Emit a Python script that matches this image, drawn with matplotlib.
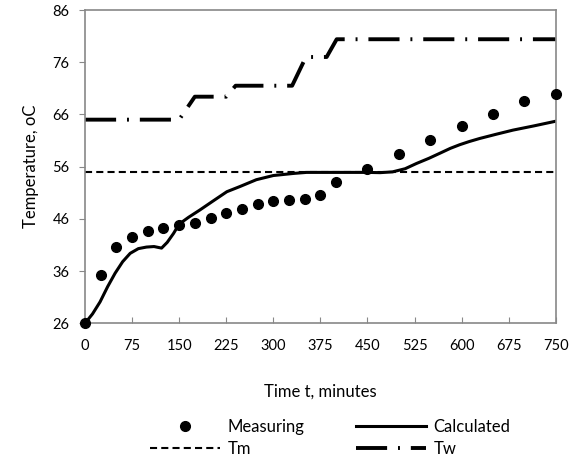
import matplotlib.pyplot as plt
from matplotlib.lines import Line2D

plt.rcParams['font.family'] = ['Lato', 'DejaVu Sans']

# measured temperatures
t_meas = [0, 25, 50, 75, 100, 125, 150, 175, 200, 225, 250, 275, 300, 325, 350, 375, 400,
          450, 500, 550, 600, 650, 700, 750]
T_meas = [26, 35.2, 40.7, 42.6, 43.7, 44.2, 44.8, 45.3, 46.1, 47.1, 47.9, 48.85, 49.4, 49.7, 49.8,
          50.6, 53.0, 55.6, 58.4, 61.1, 63.7, 66.1, 68.6, 69.9]

# calculated curve
t_calc = [0, 12, 24, 36, 48, 60, 72, 85, 98, 110, 122, 131, 141, 150, 165, 183, 205, 226, 247,
          273, 300, 332, 353, 400, 450, 470, 490, 510, 528, 548, 566, 582, 597, 612, 629, 655,
          682, 715, 750]
T_calc = [26, 27.8, 30.1, 33.0, 35.6, 37.8, 39.4, 40.3, 40.6, 40.7, 40.4, 41.5, 43.2, 45.0, 46.3,
          47.7, 49.5, 51.2, 52.2, 53.5, 54.3, 54.7, 54.9, 54.9, 54.9, 54.85, 55.0, 55.6, 56.6,
          57.6, 58.6, 59.5, 60.2, 60.8, 61.4, 62.2, 63.0, 63.8, 64.7]

# Tm and Tw
t_m = [0, 750]
T_m = [54.9, 54.9]
t_w = [0, 150, 175, 225, 240, 330, 352, 385, 401, 750]
T_w = [65, 65, 69.4, 69.4, 71.5, 71.5, 77, 77, 80.4, 80.4]

xticks = list(range(0, 751, 75))
yticks = list(range(26, 87, 10))

fig = plt.figure(figsize=(5.79, 4.61), dpi=100)
ax = fig.add_axes([0.1468, 0.2987, 0.8130, 0.6796])

tw_style = dict(color='black', lw=2.8, dashes=(8, 2.8, 0.5, 2.8), solid_capstyle='butt',
                dash_capstyle='butt')
tm_style = dict(color='black', lw=1.5, dashes=(3.4, 2))

ax.plot(t_w, T_w, **tw_style)
ax.plot(t_m, T_m, **tm_style)
ax.plot(t_calc, T_calc, color='black', lw=2.2)
ax.plot(t_meas, T_meas, 'o', color='black', ms=7, clip_on=False, zorder=5)

ax.set_xlim(0, 750)
ax.set_ylim(26, 86)
ax.set_xticks(xticks)
ax.set_yticks(yticks)
ax.tick_params(axis='x', direction='in', length=4, color='#888888', labelsize=10.5, pad=11)
ax.tick_params(axis='y', direction='out', length=4, color='#888888', labelsize=10.5, pad=7)
for s in ax.spines.values():
    s.set_color('#888888')
    s.set_linewidth(1.2)

ax.set_xlabel('Time t, minutes', fontsize=12, labelpad=22)
ax.set_ylabel('Temperature, oC', fontsize=12, labelpad=10)

handles = [
    Line2D([], [], marker='o', color='black', ls='none', ms=7),
    Line2D([], [], **tm_style),
    Line2D([], [], color='black', lw=2.2),
    Line2D([], [], **tw_style),
]
labels = ['Measuring', 'Tm', 'Calculated', 'Tw']
fig.legend(handles, labels, ncol=2, loc='upper left', bbox_to_anchor=(0.259, 0.092),
           borderaxespad=0, borderpad=0, frameon=False, fontsize=12, handlelength=4.2,
           handletextpad=0.45, columnspacing=3.1, labelspacing=0.38)

fig.savefig('out.png', dpi=100)
